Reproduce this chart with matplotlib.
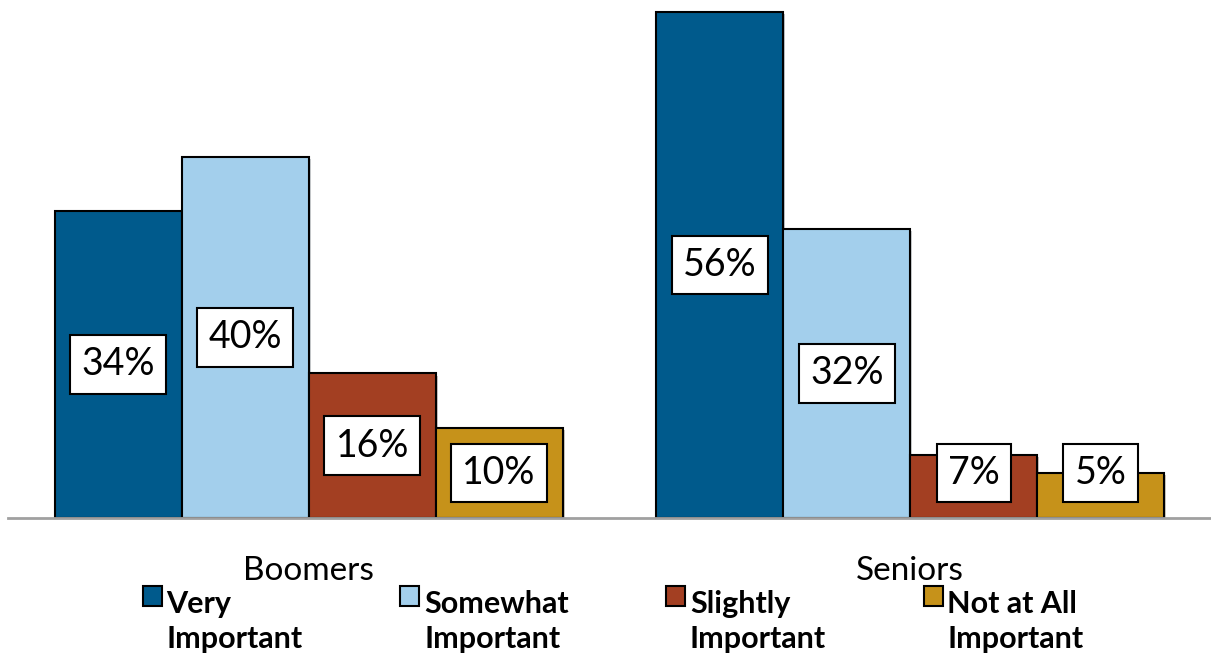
import matplotlib
matplotlib.use("Agg")
import matplotlib.pyplot as plt
import matplotlib.patheffects as pe
from matplotlib.patches import Rectangle
from matplotlib.legend_handler import HandlerPatch
import numpy as np

# data
groups = ["Boomers", "Seniors"]
series = ["Very\nImportant", "Somewhat\nImportant", "Slightly\nImportant", "Not at All\nImportant"]
very = [34, 56]
somewhat = [40, 32]
slightly = [16, 7]
not_at_all = [10, 5]

colors = ["#005A8C", "#A3CFEC", "#A33F22", "#C6921A"]

plt.rcParams["font.family"] = ["Lato", "DejaVu Sans"]

fig = plt.figure(figsize=(12.11, 6.56), dpi=100)
ax = fig.add_axes([8 / 1211, 1 - 518 / 656, 1 - 8 / 1211, 515 / 656])

x = np.arange(len(groups))
w = 0.211
offsets = (np.arange(4) - 1.5) * w
values = [very, somewhat, slightly, not_at_all]

handles = []
for i, (vals, col, name) in enumerate(zip(values, colors, series)):
    bars = ax.bar(x + offsets[i], vals, w, color=col, edgecolor="black",
                  linewidth=1.5, label=name, zorder=2)
    for b in bars:
        b.set_path_effects([pe.SimplePatchShadow(offset=(1.5, -1.5), alpha=0.25),
                            pe.Normal()])
    handles.append(bars)
    for xi, v in zip(x + offsets[i], vals):
        ly = max(v / 2, 5)
        ax.text(xi, ly, f"{v}%", ha="center", va="center", fontsize=27,
                zorder=4,
                bbox=dict(boxstyle="square,pad=0.3", fc="white", ec="black", lw=1.5))

ax.set_xlim(-0.5, 1.5)
ax.set_ylim(0, 57)
ax.set_xticks(x)
ax.set_xticklabels(groups, fontsize=24)
ax.tick_params(axis="x", length=0, pad=27)
ax.set_yticks([])
for s in ["top", "right", "left"]:
    ax.spines[s].set_visible(False)
ax.spines["bottom"].set_color("#A0A0A0")
ax.spines["bottom"].set_linewidth(2)


def top_patch(legend, orig_handle, xdescent, ydescent, width, height, fontsize):
    # put the swatch beside the first line of the two-line label
    return Rectangle((-xdescent, -ydescent + fontsize * 0.85), width, height)


fs = 22
leg = fig.legend(handles=[h[0] for h in handles], labels=series,
                 loc="lower left", bbox_to_anchor=(140 / 1211, 0.0),
                 ncol=4, frameon=False, prop=dict(size=fs, weight="bold"),
                 handlelength=0.62, handleheight=0.62, handletextpad=0.15,
                 columnspacing=3.2, borderaxespad=0.05, borderpad=0.05,
                 handler_map={Rectangle: HandlerPatch(patch_func=top_patch)})
for t in leg.get_texts():
    t.set_linespacing(1.3)
for p in leg.get_patches():
    p.set_edgecolor("black")
    p.set_linewidth(1.5)
    p.set_path_effects([])

fig.savefig("out.png", dpi=100)
